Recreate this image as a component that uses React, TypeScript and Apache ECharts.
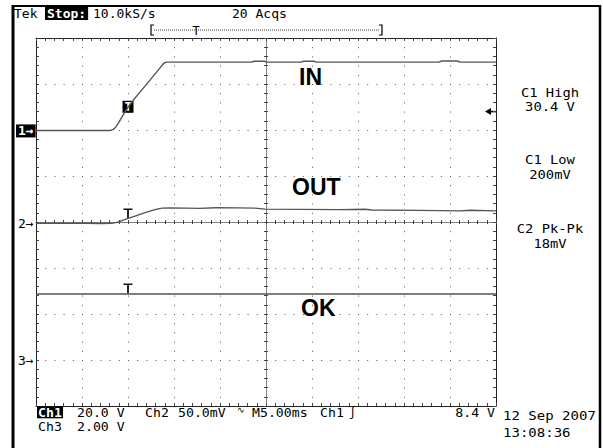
import React, { useEffect, useRef } from "react";
import * as echarts from "echarts";

// ---- acquisition settings ----
const timePerDiv = 5; // ms / div
const triggerOffsetDiv = 2; // trigger point, divisions from left edge
const ch1VoltsPerDiv = 20;
const ch2mVPerDiv = 50;
const ch3VoltsPerDiv = 2;
const ch1PositionDiv = 1.98;
const ch2PositionDiv = -0.03;
const ch3PositionDiv = -3.015;
const triggerLevelV = 8.4;
const triggerTimeMs = 0;

// ---- traces: [time ms, value] ----
const ch1Trace: [number, number][] = [
  [-10, 0.2], [-1.96, 0.2], [-1.63, 0.55], [-1.3, 1.85], [-0.98, 3.8], [-0.54, 6.85],
  [0, 10.3], [0.54, 13.2], [1.3, 16.85], [2.39, 22.1], [3.48, 27.4], [3.91, 29.55],
  [4.24, 29.9], [8, 29.9], [13.4, 29.9], [13.7, 30.3], [14.8, 30.3], [15.1, 29.9],
  [18.8, 29.9], [19.1, 30.3], [20.2, 30.3], [20.5, 29.9], [33.8, 29.9], [34.1, 30.4],
  [35.8, 30.4], [36.1, 29.9], [40, 29.9],
];
const ch2Trace: [number, number][] = [
  [-10, 0], [-6, 0.3], [-3, -0.2], [-1.8, 0], [-1.63, 0.3], [-1.09, 1.4], [-0.54, 3.6],
  [0, 5.4], [0.76, 7.9], [1.85, 11.7], [2.93, 15.0], [3.7, 16.6], [4.57, 16.8],
  [7.8, 16.3], [9.5, 17.0], [12, 16.9], [13.8, 16.6], [14.9, 15.5], [18.7, 15.2],
  [23, 14.9], [25.8, 15.3], [26.5, 14.6], [31.7, 14.1], [36.1, 13.6], [37.2, 14.2], [40, 13.6],
];
const ch3Trace: [number, number][] = [
  [-10, 2.9], [40, 2.9],
];

// ---- readouts ----
const measurementNames = ["C1 High", "C1 Low", "C2 Pk-Pk"];
const measurementValues = ["30.4 V", "200mV", "18mV"];
const traceLabels = ["IN", "OUT", "OK"];

const FONT = '"DejaVu Sans Mono"';
const GRID = { left: 36, top: 38, width: 460, height: 368 };
const DIV = 46;

const tMin = -triggerOffsetDiv * timePerDiv;
const tMax = (10 - triggerOffsetDiv) * timePerDiv;
const chRange = (pos: number, scale: number) => ({ min: (-4 - pos) * scale, max: (4 - pos) * scale });

const edgeLine = { color: "#222", width: 1 };
const tickLine = { color: "#444", width: 1 };
const dotLine = { color: "#555", width: 1, type: [1, 8.2] };

function gratX(extra: any) {
  return {
    type: "value", min: -5, max: 5, interval: 1, gridIndex: 0,
    axisLabel: { show: false }, splitLine: { show: false },
    ...extra,
  };
}
function gratY(extra: any) {
  return {
    type: "value", min: -4, max: 4, interval: 1, gridIndex: 0,
    axisLabel: { show: false }, splitLine: { show: false },
    ...extra,
  };
}

function txt(text: string, x: number, y: number, size = 13, opts: any = {}) {
  return {
    type: "text", x, y, silent: true, z: 10,
    scaleX: opts.sx || 1,
    style: {
      text, fill: opts.fill || "#000",
      font: `${opts.weight || "normal"} ${size}px ${opts.family || FONT}`,
      align: opts.align || "left", verticalAlign: "middle",
      textAlign: opts.align || "left", textVerticalAlign: "middle",
      backgroundColor: opts.bg, padding: opts.padding,
    },
  };
}

export default function App() {
  const ref = useRef<HTMLDivElement>(null);
  useEffect(() => {
    document.body.style.margin = "0";
    const chart = echarts.init(ref.current!, null, { renderer: "svg" });
    const cy = GRID.top + GRID.height / 2;
    const ch1Px = cy - ch1PositionDiv * DIV;
    const ch2Px = cy - ch2PositionDiv * DIV;
    const ch3Px = cy - ch3PositionDiv * DIV;
    const trigPx = ch1Px - (triggerLevelV / ch1VoltsPerDiv) * DIV;
    const right = GRID.left + GRID.width;

    const tPath = "path://M0 0H9V1.6H5.4V10H3.6V1.6H0Z";
    const mOpts = { align: "center", sx: 1.15 };
    const bOpts = { sx: 1.1 };

    const option: any = {
      animation: false,
      backgroundColor: "#fff",
      grid: { ...GRID, show: false, containLabel: false },
      xAxis: [
        gratX({
          position: "bottom",
          axisLine: { show: true, onZero: false, lineStyle: edgeLine },
          axisTick: { show: true, inside: true, length: 3, lineStyle: tickLine },
          minorTick: { show: true, splitNumber: 5, length: 3, lineStyle: tickLine },
          splitLine: { show: true, lineStyle: dotLine },
        }),
        gratX({
          position: "top",
          axisLine: { show: true, onZero: false, lineStyle: edgeLine },
          axisTick: { show: true, inside: true, length: 3, lineStyle: tickLine },
          minorTick: { show: true, splitNumber: 5, length: 3, lineStyle: tickLine },
        }),
        gratX({
          position: "bottom",
          axisLine: { show: true, onZero: true, onZeroAxisIndex: 0, lineStyle: { color: "#777", width: 1, type: [1, 1] } },
          axisTick: { show: true, inside: true, length: 2, lineStyle: tickLine },
          minorTick: { show: true, splitNumber: 5, length: 2, lineStyle: tickLine },
        }),
        gratX({
          position: "bottom",
          axisLine: { show: true, onZero: true, onZeroAxisIndex: 0, lineStyle: { color: "#777", width: 1, type: [1, 1] } },
          axisTick: { show: true, inside: false, length: 2, lineStyle: tickLine },
          minorTick: { show: true, splitNumber: 5, length: 2, lineStyle: tickLine },
        }),
        { type: "value", min: tMin, max: tMax, show: false, gridIndex: 0 },
      ],
      yAxis: [
        gratY({
          position: "left",
          axisLine: { show: true, onZero: false, lineStyle: edgeLine },
          axisTick: { show: true, inside: true, length: 3, lineStyle: tickLine },
          minorTick: { show: true, splitNumber: 5, length: 3, lineStyle: tickLine },
          splitLine: { show: true, lineStyle: dotLine },
        }),
        gratY({
          position: "right",
          axisLine: { show: true, onZero: false, lineStyle: edgeLine },
          axisTick: { show: true, inside: true, length: 3, lineStyle: tickLine },
          minorTick: { show: true, splitNumber: 5, length: 3, lineStyle: tickLine },
        }),
        gratY({
          position: "left",
          axisLine: { show: true, onZero: true, onZeroAxisIndex: 0, lineStyle: { color: "#777", width: 1, type: [1, 1] } },
          axisTick: { show: true, inside: true, length: 2, lineStyle: tickLine },
          minorTick: { show: true, splitNumber: 5, length: 2, lineStyle: tickLine },
        }),
        gratY({
          position: "left",
          axisLine: { show: true, onZero: true, onZeroAxisIndex: 0, lineStyle: { color: "#777", width: 1, type: [1, 1] } },
          axisTick: { show: true, inside: false, length: 2, lineStyle: tickLine },
          minorTick: { show: true, splitNumber: 5, length: 2, lineStyle: tickLine },
        }),
        { type: "value", ...chRange(ch1PositionDiv, ch1VoltsPerDiv), show: false, gridIndex: 0 },
        { type: "value", ...chRange(ch2PositionDiv, ch2mVPerDiv), show: false, gridIndex: 0 },
        { type: "value", ...chRange(ch3PositionDiv, ch3VoltsPerDiv), show: false, gridIndex: 0 },
      ],
      series: [
        {
          name: "Ch1", type: "line", xAxisIndex: 4, yAxisIndex: 4, data: ch1Trace,
          symbol: "none", silent: true, z: 5,
          lineStyle: { color: "#555", width: 1.4 },
          markPoint: {
            silent: true, animation: false,
            data: [{
              coord: [triggerTimeMs, 10.5], symbol: "rect", symbolSize: [11, 12],
              itemStyle: { color: "#000" },
              label: { show: true, formatter: "T", color: "#fff", fontFamily: FONT, fontSize: 12, fontWeight: "bold", position: "inside" },
            }],
          },
        },
        {
          name: "Ch2", type: "line", xAxisIndex: 4, yAxisIndex: 5, data: ch2Trace,
          symbol: "none", silent: true, z: 5,
          lineStyle: { color: "#555", width: 1.4 },
          markPoint: {
            silent: true, animation: false,
            data: [{
              coord: [triggerTimeMs, 5.4], symbol: tPath, symbolSize: [9, 10], symbolOffset: [0, -5],
              itemStyle: { color: "#111" }, label: { show: false },
            }],
          },
        },
        {
          name: "Ch3", type: "line", xAxisIndex: 4, yAxisIndex: 6, data: ch3Trace,
          symbol: "none", silent: true, z: 5,
          lineStyle: { color: "#555", width: 1.4 },
          markPoint: {
            silent: true, animation: false,
            data: [{
              coord: [triggerTimeMs, 2.9], symbol: tPath, symbolSize: [9, 10], symbolOffset: [0, -5.5],
              itemStyle: { color: "#111" }, label: { show: false },
            }],
          },
        },
      ],
      graphic: [
        // outer frame
        { type: "line", silent: true, shape: { x1: 13, y1: 5, x2: 13, y2: 448 }, style: { stroke: "#000", lineWidth: 3 } },
        { type: "line", silent: true, shape: { x1: 12, y1: 6, x2: 601, y2: 6 }, style: { stroke: "#000", lineWidth: 2 } },
        { type: "line", silent: true, shape: { x1: 600, y1: 5, x2: 600, y2: 448 }, style: { stroke: "#000", lineWidth: 2.5 } },
        // header
        txt("Tek", 14, 13, 13),
        txt("Stop:", 45, 13, 13, { fill: "#fff", bg: "#000", padding: [1, 2, 0, 2], weight: "bold" }),
        txt("10.0kS/s", 93, 13, 13),
        txt("20 Acqs", 232, 13, 13),
        // record bar
        { type: "polyline", silent: true, shape: { points: [[154, 25], [151, 25], [151, 35], [154, 35]] }, style: { stroke: "#000", lineWidth: 1.2, fill: null } },
        { type: "polyline", silent: true, shape: { points: [[379, 25], [382, 25], [382, 35], [379, 35]] }, style: { stroke: "#000", lineWidth: 1.2, fill: null } },
        { type: "line", silent: true, shape: { x1: 154, y1: 30, x2: 379, y2: 30 }, style: { stroke: "#444", lineWidth: 1, lineDash: [1, 1] } },
        txt("T", 196, 30.5, 12, { align: "center" }),
        // channel markers
        txt("1\u2192", 16, ch1Px, 13, { fill: "#fff", bg: "#000", padding: [0, 2, 0, 2], weight: "bold" }),
        txt("2\u2192", 18, ch2Px, 13),
        txt("3\u2192", 18, ch3Px, 13),
        // trigger level arrow
        { type: "polygon", silent: true, shape: { points: [[485, trigPx], [491, trigPx - 3.5], [491, trigPx + 3.5]] }, style: { fill: "#000" } },
        { type: "line", silent: true, shape: { x1: 490, y1: trigPx, x2: right, y2: trigPx }, style: { stroke: "#000", lineWidth: 1.5 } },
        // trace labels
        txt(traceLabels[0], 299, 77, 23, { family: '"Liberation Sans"', weight: "bold" }),
        txt(traceLabels[1], 292, 187, 23, { family: '"Liberation Sans"', weight: "bold" }),
        txt(traceLabels[2], 301, 308, 23, { family: '"Liberation Sans"', weight: "bold" }),
        // measurements
        txt(measurementNames[0], 550, 92.8, 12, mOpts),
        txt(measurementValues[0], 550, 107.2, 12, mOpts),
        txt(measurementNames[1], 550, 160, 12, mOpts),
        txt(measurementValues[1], 550, 174.4, 12, mOpts),
        txt(measurementNames[2], 550, 229, 12, mOpts),
        txt(measurementValues[2], 550, 243.4, 12, mOpts),
        // bottom readout
        txt("Ch1", 37, 412.3, 12, { fill: "#fff", bg: "#000", padding: [0, 1, 0, 1], weight: "bold", sx: 1.1 }),
        txt(`${ch1VoltsPerDiv.toFixed(1)} V`, 77, 412.3, 12, bOpts),
        txt("Ch2", 145, 412.3, 12, bOpts),
        txt(`${ch2mVPerDiv.toFixed(1)}mV`, 178, 412.3, 12, bOpts),
        txt("\u223F", 237, 410, 9),
        txt(`M${timePerDiv.toFixed(2)}ms`, 252, 412.3, 12, bOpts),
        txt("Ch1", 320, 412.3, 12, bOpts),
        txt("\u0283", 349, 412.3, 12),
        txt(`${triggerLevelV.toFixed(1)} V`, 495, 412.3, 12, { align: "right", sx: 1.1 }),
        txt("Ch3", 38, 426.7, 12, bOpts),
        txt(`${ch3VoltsPerDiv.toFixed(2)} V`, 77, 426.7, 12, bOpts),
        txt("12 Sep 2007", 503, 415, 13, { sx: 1.08 }),
        txt("13:08:36", 503, 432, 13, { sx: 1.08 }),
      ],
    };
    chart.setOption(option);
    return () => chart.dispose();
  }, []);
  return <div ref={ref} style={{ width: 603, height: 448, background: "#fff" }} />;
}
